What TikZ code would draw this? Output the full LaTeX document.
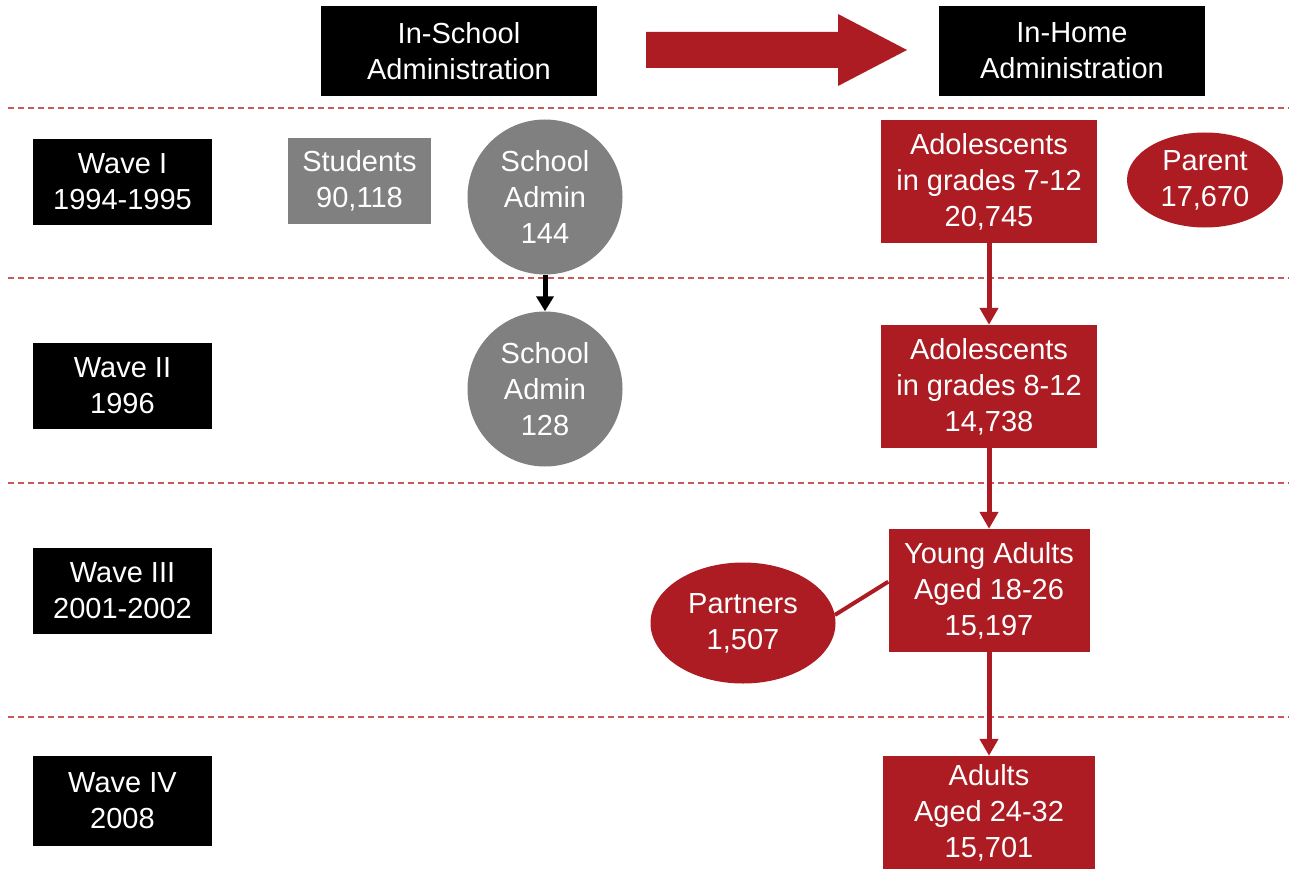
\documentclass[tikz,border=0pt]{standalone}
\usepackage{fontspec}
\setmainfont{Liberation Sans}
\usetikzlibrary{arrows.meta,positioning,shapes.geometric}
\definecolor{addred}{HTML}{AD1C23}
\definecolor{addgray}{HTML}{808080}
\definecolor{waveline}{HTML}{C9585C}
\newcommand{\bodyfont}{\fontsize{29}{36}\selectfont}
\tikzset{
  wavebox/.style={
    fill=black,
    text=white,
    minimum width=179pt,
    minimum height=86pt,
    inner sep=0pt,
    align=center,
    font=\bodyfont
  },
  headbox/.style={
    wavebox,
    minimum height=90pt
  },
  studentbox/.style={
    fill=addgray,
    text=white,
    minimum width=143pt,
    minimum height=86pt,
    inner sep=0pt,
    align=center,
    font=\bodyfont
  },
  adminnode/.style={
    circle,
    fill=addgray,
    text=white,
    minimum size=155pt,
    inner sep=0pt,
    align=center,
    font=\bodyfont
  },
  redbox/.style={
    fill=addred,
    text=white,
    minimum width=216pt,
    minimum height=123pt,
    inner sep=0pt,
    align=center,
    font=\bodyfont
  },
  redoval/.style={
    ellipse,
    fill=addred,
    text=white,
    inner sep=0pt,
    align=center,
    font=\bodyfont
  },
  waveline/.style={
    draw=waveline,
    line width=1.5pt,
    dash pattern=on 6pt off 4pt
  },
  redarrow/.style={
    -{Triangle[length=17pt,width=18pt]},
    line width=5pt,
    draw=addred
  },
  blackarrow/.style={
    -{Triangle[length=15pt,width=17pt]},
    line width=5pt,
    draw=black
  }
}

\begin{document}
\begin{tikzpicture}[x=1pt,y=-1pt]
\useasboundingbox (0,0) rectangle (1289,869);

% wave separators
\foreach \yy in {108,278,483,717}
  \draw[waveline] (8,\yy) -- (1289,\yy);

% header
\node[headbox, minimum width=276pt] (inschool) at (459,51) {In-School\\Administration};
\node[headbox, minimum width=266pt] (inhome) at (1072,51) {In-Home\\Administration};
\fill[addred] (646,32) -- (838,32) -- (838,14) -- (907,50) -- (838,86) -- (838,68) -- (646,68) -- cycle;

% waves
\node[wavebox] (wave1) at (122.5,182) {Wave I\\1994-1995};
\node[wavebox] (wave2) at (122.5,386) {Wave II\\1996};
\node[wavebox] (wave3) at (122.5,591) {Wave III\\2001-2002};
\node[wavebox, minimum height=90pt] (wave4) at (122.5,801) {Wave IV\\2008};

% in-school
\node[studentbox] (students) at (359.5,181) {Students\\90,118};
\node[adminnode] (admin1) at (545,197) {School\\Admin\\144};
\node[adminnode] (admin2) at (545,389) {School\\Admin\\128};
\draw[blackarrow] (admin1) -- (admin2);

% in-home
\node[redbox] (ado1) at (989,181.5) {Adolescents\\in grades 7-12\\20,745};
\node[redbox] (ado2) at (989,386.5) {Adolescents\\in grades 8-12\\14,738};
\node[redbox, minimum width=201pt] (young) at (989,590.5) {Young Adults\\Aged 18-26\\15,197};
\node[redbox, minimum width=212pt, minimum height=113pt] (adults) at (989,812.5) {Adults\\Aged 24-32\\15,701};
\node[redoval, minimum width=156pt, minimum height=95pt] (parent) at (1205,180) {Parent\\17,670};
\node[redoval, minimum width=185pt, minimum height=121pt] (partners) at (743,623) {Partners\\1,507};

\draw[redarrow] (ado1) -- (ado2);
\draw[redarrow] (ado2) -- (young);
\draw[redarrow] (young) -- (adults);
\draw[addred, line width=4pt] (partners.5) -- (young.175);
\end{tikzpicture}
\end{document}
